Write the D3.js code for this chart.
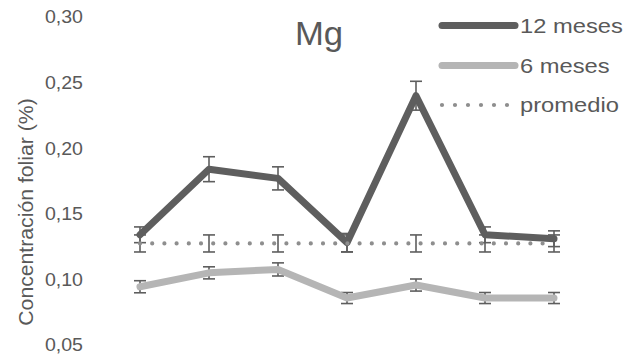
<!DOCTYPE html>
<html>
<head>
<meta charset="utf-8">
<script src="https://cdn.jsdelivr.net/npm/d3@7"></script>
<style>
  body { margin: 0; background: #fff; }
  text { font-family: "Liberation Sans", Arial, sans-serif; fill: #595959; }
</style>
</head>
<body>
<div id="chart"></div>
<script>
var categories = ["1", "2", "3", "4", "5", "6", "7"];
var meses12 = [0.134, 0.184, 0.177, 0.128, 0.240, 0.134, 0.131];
var meses12Err = [0.006, 0.0095, 0.0088, 0.007, 0.011, 0.006, 0.006];
var meses6 = [0.0944, 0.105, 0.1076, 0.0858, 0.0957, 0.0858, 0.0858];
var meses6Err = [0.0046, 0.0046, 0.005, 0.0042, 0.0046, 0.0042, 0.0042];
var promedio = [0.1274, 0.1274, 0.1274, 0.1274, 0.1274, 0.1274, 0.1274];
var promedioErr = [0.0065, 0.0065, 0.0065, 0.0065, 0.0065, 0.0065, 0.0065];
var yTicks = [0.05, 0.10, 0.15, 0.20, 0.25, 0.30];

var width = 628, height = 359;
var dark = "#5e5e5e", light = "#b5b5b5", dots = "#8e8e8e";

var svg = d3.select("#chart").append("svg")
  .attr("width", width)
  .attr("height", height);

var x = d3.scalePoint().domain(categories).range([140, 554]);
var y = d3.scaleLinear().domain([0.05, 0.30]).range([345, 17]);

// y tick labels (no axis line)
var fmt = function(d) { return d3.format(".2f")(d).replace(".", ","); };
svg.selectAll(".ytick").data(yTicks).enter().append("g")
  .attr("class", "ytick")
  .attr("transform", function(d) { return "translate(83," + y(d) + ") scale(1.1,1)"; })
  .append("text")
  .attr("text-anchor", "end")
  .attr("dy", "0.36em")
  .style("font-size", "17.8px")
  .text(fmt);

// y axis title
svg.append("g")
  .attr("transform", "translate(32.5,212) rotate(-90) scale(1.05,1)")
  .append("text")
  .attr("text-anchor", "middle")
  .style("font-size", "20.2px")
  .text("Concentración foliar (%)");

// title
svg.append("g")
  .attr("transform", "translate(319,45) scale(1.02,1)")
  .append("text")
  .attr("text-anchor", "middle")
  .style("font-size", "34px")
  .text("Mg");

function errorBars(vals, errs) {
  var g = svg.append("g");
  vals.forEach(function(v, i) {
    var cx = x(categories[i]);
    var y1 = y(v + errs[i]), y2 = y(v - errs[i]);
    g.append("line").attr("x1", cx).attr("x2", cx).attr("y1", y1).attr("y2", y2)
      .attr("stroke", dark).attr("stroke-width", 1.6);
    [y1, y2].forEach(function(yy) {
      g.append("line").attr("x1", cx - 6).attr("x2", cx + 6).attr("y1", yy).attr("y2", yy)
        .attr("stroke", dark).attr("stroke-width", 1.6);
    });
  });
}

errorBars(promedio, promedioErr);
errorBars(meses12, meses12Err);
errorBars(meses6, meses6Err);

var line = d3.line()
  .x(function(d, i) { return x(categories[i]); })
  .y(function(d) { return y(d); });

svg.append("path").datum(meses6)
  .attr("d", line)
  .attr("fill", "none").attr("stroke", light).attr("stroke-width", 7)
  .attr("stroke-linecap", "round").attr("stroke-linejoin", "round");

svg.append("path").datum(meses12)
  .attr("d", line)
  .attr("fill", "none").attr("stroke", dark).attr("stroke-width", 7)
  .attr("stroke-linecap", "round").attr("stroke-linejoin", "round");

svg.append("path").datum(promedio)
  .attr("d", line)
  .attr("fill", "none").attr("stroke", dots).attr("stroke-width", 4.2)
  .attr("stroke-linecap", "round").attr("stroke-dasharray", "0 12.2");

// legend
var legend = [
  { name: "12 meses", color: dark, width: 7, dash: null, y: 25.5 },
  { name: "6 meses", color: light, width: 7, dash: null, y: 65.5 },
  { name: "promedio", color: dots, width: 4.2, dash: "0 13", y: 105 }
];
var lg = svg.selectAll(".legend").data(legend).enter().append("g").attr("class", "legend");
lg.append("line")
  .attr("x1", 442).attr("x2", function(d) { return d.dash ? 508 : 515; })
  .attr("y1", function(d) { return d.y; }).attr("y2", function(d) { return d.y; })
  .attr("stroke", function(d) { return d.color; })
  .attr("stroke-width", function(d) { return d.width; })
  .attr("stroke-linecap", "round")
  .attr("stroke-dasharray", function(d) { return d.dash; });
lg.append("g")
  .attr("transform", function(d) { return "translate(520," + (d.y + 7) + ") scale(1.13,1)"; })
  .append("text")
  .style("font-size", "21px")
  .text(function(d) { return d.name; });
</script>
</body>
</html>
